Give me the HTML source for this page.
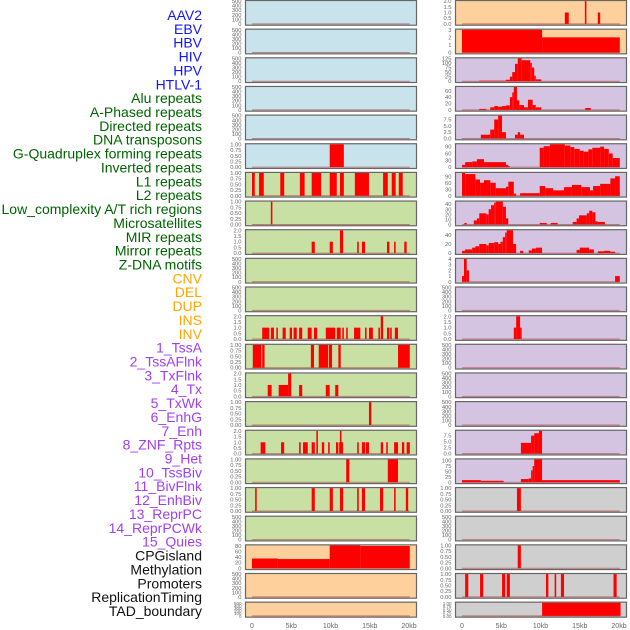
<!DOCTYPE html>
<html><head><meta charset="utf-8"><style>
html,body{margin:0;padding:0;background:#fff;}
svg{display:block;font-family:"Liberation Sans",sans-serif;}
</style></head><body>
<svg id="chart" width="630" height="630" viewBox="0 0 630 630"></svg>
<script>
const trackLabels = ["AAV2","EBV","HBV","HIV","HPV","HTLV-1","Alu repeats","A-Phased repeats","Directed repeats","DNA transposons","G-Quadruplex forming repeats","Inverted repeats","L1 repeats","L2 repeats","Low_complexity A/T rich regions","Microsatellites","MIR repeats","Mirror repeats","Z-DNA motifs","CNV","DEL","DUP","INS","INV","1_TssA","2_TssAFlnk","3_TxFlnk","4_Tx","5_TxWk","6_EnhG","7_Enh","8_ZNF_Rpts","9_Het","10_TssBiv","11_BivFlnk","12_EnhBiv","13_ReprPC","14_ReprPCWk","15_Quies","CPGisland","Methylation","Promoters","ReplicationTiming","TAD_boundary"];
const labelColors = {virus:"#1414ff",repeat:"#006400",sv:"#ffa500",hmm:"#a040f0",other:"#111"};
const xTickValues = [0,5,10,15,20];
const xTickLabels = ["0","5kb","10kb","15kb","20kb"];
const E = [];
const yMaxes = [500,500,500,500,500,1,1,1,2,500,500,2,1,2,1,2,1,1,500,82,500,500,
                2,3,125,72,9,100,105,45,50,4,500,2,500,500,500,9.5,105,1,500,1,1,1];
const yTicks = {500:[0,100,200,300,400,500],1:[0,0.25,0.5,0.75,1],2:[0,0.5,1,1.5,2],82:[0,20,40,60,80],3:[0,1,2,3],125:[0,25,50,75,100,125],72:[0,20,40,60],9:[0,2.5,5,7.5],100:[0,30,60,90],105:[0,30,60,90],45:[0,10,20,30,40],50:[0,20,40],4:[0,1,2,3,4],9.5:[0,2.5,5,7.5]};
const yTicks105b = [0,25,50,75,100];
const segments = [
 E,E,E,E,E,
 [[9.9,11.7,1]],
 [[0,0.35,1],[0.9,1.5,1],[3.6,4.1,1],[6.1,6.7,1],[7.6,8.8,1],[9.9,10.8,1],[11.2,11.7,1],[13.1,14.9,1],[16.7,17.3,1],[17.8,18.3,1],[18.7,19.2,1]],
 [[2.4,2.6,1]],
 [[7.6,8.0,1],[9.9,10.3,1],[11.2,11.6,2],[13.4,13.6,1],[14.0,14.4,1],[17.2,17.5,1],[18.1,18.3,1],[19.4,19.7,1]],
 E,E,
 [[1.3,2.2,1],[2.4,2.8,1],[3.1,3.3,1],[3.9,4.3,1],[4.8,5.1,1],[5.3,5.7,1],[6.0,6.4,1],[7.1,7.6,1],[7.9,8.3,1],[9.4,10.6,1],[10.8,11.3,1],[11.5,11.7,1],[12.0,12.2,1],[13.0,13.8,1],[14.4,14.6,1],[14.9,15.4,1],[16.1,16.3,1],[16.4,16.7,2],[17.2,17.5,1],[17.6,17.8,1],[18.2,18.6,1]],
 [[0.1,1.2,1],[1.3,1.6,1],[7.5,7.9,1],[8.5,9.7,1],[9.8,10.2,1],[11.0,11.3,1],[18.6,20.1,1]],
 [[2.0,2.5,1],[3.4,4.6,1],[4.6,5.0,2],[6.0,6.4,1],[9.4,9.9,1],[10.6,11.0,1]],
 [[14.9,15.2,1]],
 [[1.1,1.7,1],[3.7,4.1,1],[6.0,6.2,1],[6.5,7.1,1],[7.6,8.0,1],[8.2,8.4,2],[8.9,9.2,1],[9.7,9.9,1],[10.7,11.0,1],[11.1,11.6,1],[11.2,11.4,2],[13.4,13.6,1],[14.0,14.4,1],[14.5,14.9,1],[16.4,16.7,1],[17.1,17.3,1],[18.1,18.6,1],[19.1,19.4,1],[19.7,20.1,1]],
 [[12.0,12.4,1],[17.3,18.6,1]],
 [[0.4,0.6,1],[7.6,8.0,1],[9.9,10.3,1],[11.2,11.6,1],[13.4,13.6,1],[14.0,14.4,1],[16.3,16.7,1],[18.1,18.3,1],[19.6,19.9,1]],
 E,
 [[0,3.3,35],[3.3,9.9,33],[9.9,13.8,82],[13.8,20.1,80]],
 E,E,
 [[13.1,13.6,1],[15.65,15.85,2],[17.3,17.6,1]],
 [[0,10.2,3],[10.2,20.1,2]],
 [[2.2,5.6,3],[5.6,6.1,8],[6.1,6.4,25],[6.4,6.75,50],[6.75,7.1,95],[7.1,7.6,125],[7.6,8.7,115],[8.7,8.9,100],[8.9,9.2,75],[9.2,9.4,30],[9.4,10.1,10]],
 [[2.2,3.1,3],[3.6,4.1,8],[4.1,4.6,12],[4.6,5.1,10],[5.1,5.6,12],[5.6,6.1,14],[6.1,6.4,40],[6.4,6.6,55],[6.6,7.0,72],[7.0,7.3,30],[7.3,7.9,15],[7.9,8.4,8],[8.4,9.0,32],[9.0,9.4,15],[9.4,10.1,8],[15.7,16.4,6]],
 [[2.4,3.6,1.5],[3.6,4.1,3.5],[4.1,4.6,7.5],[4.6,5.1,9],[5.1,5.6,2.5],[6.75,7.1,1.5],[7.1,7.4,2.5],[7.4,7.9,1.5]],
 [[0,0.4,10],[0.4,1.3,22],[1.3,1.9,25],[1.9,2.8,35],[2.8,5.6,22],[5.6,5.9,10],[5.9,6.1,4],[9.9,10.4,85],[10.4,11.2,92],[11.2,13.1,100],[13.1,13.8,95],[13.8,14.3,88],[14.3,15.0,80],[15.0,15.5,72],[15.5,16.1,68],[16.1,16.6,78],[16.6,17.6,85],[17.6,18.1,90],[18.1,18.7,80],[18.7,19.2,60],[19.2,20.1,40]],
 [[0,0.4,105],[0.4,1.7,100],[1.7,2.3,75],[2.3,2.8,60],[2.8,3.6,72],[3.6,4.3,60],[4.3,5.6,35],[5.6,5.9,42],[5.9,6.6,65],[6.6,6.9,10],[7.4,9.9,12],[9.9,10.6,45],[10.6,11.6,35],[11.6,13.0,25],[13.0,14.0,40],[14.0,15.2,50],[15.2,16.3,40],[16.3,16.7,25],[16.7,17.6,45],[17.6,18.9,55],[18.9,19.5,80],[19.5,20.1,90]],
 [[0.3,0.6,3],[1.5,1.9,8],[1.9,2.2,12],[2.2,3.1,22],[3.1,3.4,20],[3.4,3.7,30],[3.7,4.1,38],[4.1,4.3,43],[4.3,5.2,45],[5.2,5.6,35],[5.6,5.9,12],[9.9,10.8,3],[11.3,12.2,3],[14.1,14.6,5],[14.6,14.9,12],[14.9,15.9,18],[15.9,16.2,22],[16.2,16.6,27],[16.6,17.0,24],[17.0,17.3,6],[17.3,18.2,5]],
 [[0,0.4,5],[0.4,1.3,8],[1.3,1.7,12],[1.7,2.2,15],[2.2,3.1,20],[3.1,3.4,17],[3.4,4.1,22],[4.1,4.6,24],[4.6,4.9,20],[4.9,5.2,25],[5.2,5.5,35],[5.5,5.7,45],[5.7,6.5,50],[6.5,6.9,20],[7.4,7.8,5],[8.5,8.9,6],[8.9,9.4,10],[9.4,10.2,12],[14.6,15.0,7],[15.0,16.2,12],[16.2,16.8,8],[17.3,18.1,4],[18.1,18.9,5],[18.9,19.5,3]],
 [[0,0.25,1],[0.25,0.6,4],[0.6,0.9,2],[19.5,20.1,1]],
 E,
 [[6.6,6.9,1],[6.9,7.4,2],[7.4,7.6,1]],
 E,E,E,
 [[7.5,8.8,4.5],[8.8,9.2,7.5],[9.2,9.8,8.5],[9.8,10.2,9.5]],
 [[0,2.4,10],[2.4,5.3,7],[7.5,8.5,15],[8.5,8.8,18],[8.8,9.0,55],[9.0,9.2,75],[9.2,10.2,105],[10.2,20.1,10]],
 [[7.0,7.5,1]],
 E,
 [[7.1,7.5,1]],
 [[0.4,0.8,1],[2.3,2.7,1],[5.1,5.5,1],[5.7,6.1,1],[10.7,11.0,1],[11.8,12.0,1],[12.6,13.0,1],[19.3,19.7,1]],
 [[10.2,20.2,1]]
];

const svg = document.getElementById('chart');
const NS = 'http://www.w3.org/2000/svg';
function mk(tag, attrs, parent){ const e=document.createElementNS(NS,tag); for(const k in attrs) e.setAttribute(k,attrs[k]); (parent||svg).appendChild(e); return e; }

function labelColor(i){ if(i<6) return labelColors.virus; if(i<19) return labelColors.repeat; if(i<24) return labelColors.sv; if(i<39) return labelColors.hmm; return labelColors.other; }
function panelFill(i){ if(i<6) return '#c8e3eb'; if(i<19) return '#c8e0a4'; if(i<24) return '#fdd09c'; if(i<39) return '#d5c4e1'; return '#cfcfcf'; }

trackLabels.forEach((t,i)=>{
  const el = mk('text',{x:202,y:20+i*13.86,'text-anchor':'end','font-size':'14',fill:labelColor(i)});
  el.textContent = t;
  
  
});

const colLeft = [245.5, 455.5];
const zeroX = [252, 462];
const pxPerKb = 7.85;
function xScale(col, kb){ return zeroX[col] + kb*pxPerKb; }

for(let i=0;i<44;i++){
  const col = i<22?0:1, row = i%22;
  const top = 0.5 + row*28.65;
  const h = row===21 ? 15 : 24.7;
  const g = mk('g',{});
  
  
  const rect = mk('rect',{x:colLeft[col],y:top,width:171,height:h,fill:panelFill(i),stroke:'#666','stroke-width':1.2},g);
  
  
  const ymax = yMaxes[i];
  const y0 = top + h - 1.3, y1 = top + 0.6;
  const yScale = v => y0 - (v/ymax)*(y0-y1);
  mk('line',{x1:xScale(col,0),x2:xScale(col,20.1),y1:y0,y2:y0,stroke:'#b04040','stroke-width':1,opacity:0.6},g);
  segments[i].forEach(s=>{
    const b = mk('rect',{x:xScale(col,s[0]),y:yScale(s[2]),width:Math.max(1.3,(s[1]-s[0])*pxPerKb),height:y0-yScale(s[2]),fill:'#ff0000'},g);
    
    
  });
  let ticks = yTicks[ymax];
  if(i===38) ticks = yTicks105b;
  const fs = row===21 ? 4.5 : 5.8;
  ticks.forEach(tv=>{
    const tl = mk('text',{x:colLeft[col]-4,y:yScale(tv)+2,'text-anchor':'end','font-size':fs,fill:'#666'},g);
    tl.textContent = (ymax===1 ? tv.toFixed(2) : (ymax===2||ymax===9||ymax===9.5) ? tv.toFixed(1) : String(tv));
    
    
  });
}

for(let col=0;col<2;col++){
  xTickValues.forEach((v,k)=>{
    const t = mk('text',{x:xScale(col,v),y:628,'text-anchor':'middle','font-size':7,fill:'#666'});
    t.textContent = xTickLabels[k];
    
    
  });
}
</script>
</body></html>
